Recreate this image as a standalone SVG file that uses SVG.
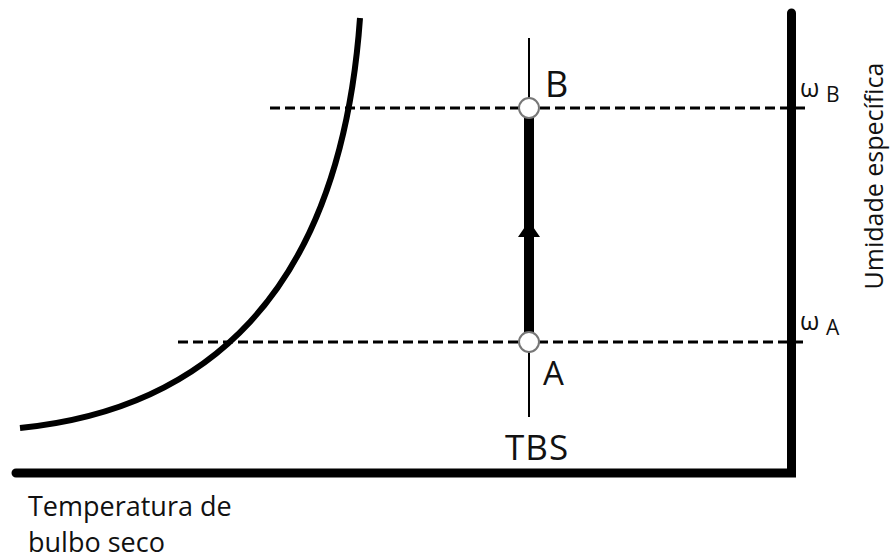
<svg xmlns="http://www.w3.org/2000/svg" width="892" height="559" viewBox="0 0 892 559">
<style>
.lbl{font-family:"Open Sans","Liberation Sans",sans-serif;fill:#111}
.dash{stroke:#000;stroke-width:3;stroke-dasharray:10,5;fill:none}
.pt{fill:#fff;stroke:#777;stroke-width:2}
</style>
<rect width="892" height="559" fill="#fff"/>
<g id="axes" fill="none" stroke="#000" stroke-width="9">
<path d="M16,473 H791.5 V13" stroke-linecap="round" stroke-linejoin="miter"/>
</g>
<g id="saturation-curve">
<path d="M20,428 C200,410 340,300 360,18" fill="none" stroke="#000" stroke-width="6"/>
</g>
<g id="connectors">
<line class="dash" x1="270" y1="108" x2="808" y2="108"/>
<line class="dash" x1="178" y1="342" x2="808" y2="342"/>
<line x1="529" y1="38" x2="529" y2="417" stroke="#000" stroke-width="2"/>
<line x1="529" y1="108" x2="529" y2="342" stroke="#000" stroke-width="10"/>
<polygon points="529,221 518,237 540,237" fill="#000"/>
</g>
<g id="node-B">
<circle class="pt" cx="529" cy="108" r="10"/>
<text class="lbl" x="545" y="97" font-size="36">B</text>
</g>
<g id="node-A">
<circle class="pt" cx="529" cy="342" r="10"/>
<text class="lbl" x="543" y="385" font-size="33">A</text>
</g>
<g id="labels">
<text class="lbl" x="505" y="460" font-size="35" letter-spacing="1">TBS</text>
<text class="lbl" x="800" y="97" font-size="25">ω</text>
<text class="lbl" x="826" y="102" font-size="21">B</text>
<text class="lbl" x="800" y="330" font-size="25">ω</text>
<text class="lbl" x="826" y="335" font-size="21">A</text>
<text class="lbl" font-size="25" transform="translate(883,176) rotate(-90)" text-anchor="middle">Umidade específica</text>
<text class="lbl" x="28" y="516" font-size="27">Temperatura de</text>
<text class="lbl" x="28" y="552" font-size="27">bulbo seco</text>
</g>
</svg>
